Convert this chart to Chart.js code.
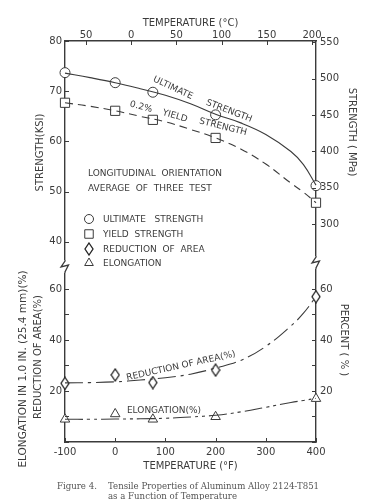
<!DOCTYPE html>
<html>
<head>
<meta charset="utf-8">
<script src="https://cdn.jsdelivr.net/npm/chart.js@4"></script>
<style>
  body { margin: 0; background: #fff; }
  canvas { display: block; }
</style>
</head>
<body>
<canvas id="tensile_chart" width="370" height="500"></canvas>
<script>
// test points
const testTempF = [-100, 0, 75, 200, 400];
const ultimateKsi = [73.7, 71.7, 69.8, 65.3, 51.2];
const yieldKsi = [67.7, 66.1, 64.3, 60.7, 47.8];
const reductionPct = [23.0, 26.3, 23.3, 28.2, 57.0];
const elongationPct = [8.9, 11.0, 8.9, 9.9, 17.0];

// faired curves, also
const curveTempF = [-100, -50, 0, 50, 100, 150, 200, 250, 300, 350, 375, 400];
const ultimateCurve = [73.6, 72.7, 71.7, 70.5, 69.2, 67.5, 65.4, 63.7, 61.4, 58.0, 55.4, 51.3];
const yieldCurve = [67.7, 67.0, 66.1, 65.0, 63.9, 62.4, 60.7, 58.5, 55.5, 51.7, 49.9, 47.8];
const reductionCurve = [23.2, 23.3, 23.6, 24.3, 25.2, 26.6, 29.0, 32.0, 37.5, 45.5, 50.5, 57.0];
const elongationCurve = [8.9, 8.9, 9.0, 9.1, 9.3, 9.8, 10.5, 11.8, 13.6, 15.5, 16.3, 17.1];

// ticks
const tempFTicks = [-100, 0, 100, 200, 300, 400];
const tempCTicks = [-50, 0, 50, 100, 150, 200];
const tempCLabels = ['50', '0', '50', '100', '150', '200'];
const ksiTicks = [40, 50, 60, 70, 80];
const mpaTicks = [300, 350, 400, 450, 500, 550];
const pctTicks = [0, 10, 20, 30, 40, 50, 60];
const pctLabels = [20, 40, 60];

const ink = '#3b3b3b';
const KSI_TO_MPA = 6.895;
const ksiMin = 35.6, ksiMax = 80, pctMax = 69.8;

Chart.defaults.font.family = 'DejaVu Sans';
Chart.defaults.color = ink;

const tickFont = { family: 'DejaVu Sans', size: 10 };
const titleFont = { family: 'DejaVu Sans', size: 10 };

const fixTicks = values => scale => { scale.ticks = values.map(v => ({ value: v })); };
const pts = (xs, ys) => xs.map((x, i) => ({ x: x, y: ys[i] }));

// elongated diamond for reduction of area
const diamond = document.createElement('canvas');
diamond.width = 10; diamond.height = 14;
(function () {
  const c = diamond.getContext('2d');
  c.fillStyle = '#fff'; c.strokeStyle = '#222'; c.lineWidth = 1.3;
  c.beginPath();
  c.moveTo(5, 1); c.lineTo(9, 7); c.lineTo(5, 13); c.lineTo(1, 7); c.closePath();
  c.fill(); c.stroke();
})();

function curve(data, axis, dash) {
  return {
    data: data, yAxisID: axis, showLine: true, pointRadius: 0,
    borderColor: ink, borderWidth: 1.1, borderDash: dash,
    tension: 0.4, clip: false
  };
}
function markers(data, axis, style, r) {
  return {
    data: data, yAxisID: axis, showLine: false, pointStyle: style, pointRadius: r,
    pointBackgroundColor: '#fff', pointBorderColor: ink, pointBorderWidth: 1, clip: false
  };
}

const axisBase = {
  grid: { drawOnChartArea: false, drawTicks: false },
  border: { color: ink, width: 1.4 },
};

function rotatedText(ctx, text, x, y, deg) {
  ctx.save();
  ctx.translate(x, y);
  ctx.rotate(deg * Math.PI / 180);
  ctx.fillText(text, 0, 0);
  ctx.restore();
}

// ticks pointing into the plot, breaks in the side axes, side titles, notes and caption
const decorations = {
  id: 'decorations',
  afterDraw(chart) {
    const ctx = chart.ctx;
    const a = chart.chartArea;
    ctx.save();
    ctx.strokeStyle = ink;
    ctx.lineWidth = 1;
    Object.values(chart.scales).forEach(s => {
      s.ticks.forEach(t => {
        const p = Math.round(s.getPixelForValue(t.value)) + 0.5;
        ctx.beginPath();
        if (s.position === 'left') { ctx.moveTo(a.left, p); ctx.lineTo(a.left + 4, p); }
        if (s.position === 'right') { ctx.moveTo(a.right, p); ctx.lineTo(a.right - 4, p); }
        if (s.position === 'bottom') { ctx.moveTo(p, a.bottom); ctx.lineTo(p, a.bottom - 4); }
        if (s.position === 'top') { ctx.moveTo(p, a.top); ctx.lineTo(p, a.top + 4); }
        ctx.stroke();
      });
    });

    // axis breaks
    const brk = (x, y) => {
      ctx.fillStyle = '#fff';
      ctx.fillRect(x - 2, y - 1, 4, 13);
      ctx.lineWidth = 1.3;
      ctx.beginPath();
      ctx.moveTo(x, y - 1); ctx.lineTo(x, y);
      ctx.lineTo(x - 4, y + 6); ctx.lineTo(x + 3.5, y + 4);
      ctx.lineTo(x, y + 11); ctx.lineTo(x, y + 12);
      ctx.stroke();
    };
    brk(a.left, 261);
    brk(a.right, 257);

    ctx.fillStyle = ink;
    ctx.textBaseline = 'middle';

    // side titles
    ctx.textAlign = 'center';
    ctx.font = '10.5px "DejaVu Sans"';
    rotatedText(ctx, 'ELONGATION IN 1.0 IN. (25.4 mm)(%)', 23, 369, -90);
    ctx.font = '10px "DejaVu Sans"';
    rotatedText(ctx, 'REDUCTION OF AREA(%)', 38, 357, -90);
    rotatedText(ctx, 'STRENGTH ( MPa)', 352, 132, 90);
    rotatedText(ctx, 'PERCENT ( % )', 344, 340, 90);

    ctx.textAlign = 'left';
    ctx.font = '9px "DejaVu Sans"';
    ctx.fillText('LONGITUDINAL  ORIENTATION', 88, 174);
    ctx.fillText('AVERAGE  OF  THREE  TEST', 88, 189);

    const legend = [
      ['circle', 4.5, 'ULTIMATE   STRENGTH', 219],
      ['rect', 6, 'YIELD  STRENGTH', 234],
      [diamond, 0, 'REDUCTION  OF  AREA', 249],
      ['triangle', 5, 'ELONGATION', 263]
    ];
    legend.forEach(([style, r, label, y]) => {
      ctx.fillStyle = '#fff';
      ctx.lineWidth = 1;
      Chart.helpers.drawPoint(ctx, { pointStyle: style, radius: r, rotation: 0, borderWidth: 1 }, 89, y);
      ctx.fillStyle = ink;
      ctx.fillText(label, 103, y + 1);
    });

    // labels along the curves
    const onCurve = [
      ['ULTIMATE', 173, 88, 25],
      ['STRENGTH', 229, 111, 21],
      ['0.2%', 141, 107, 15],
      ['YIELD', 175, 116, 16],
      ['STRENGTH', 223, 127, 14],
      ['REDUCTION OF AREA(%)', 181, 366, -12.5],
      ['ELONGATION(%)', 164, 411, 0]
    ];
    ctx.textAlign = 'center';
    onCurve.forEach(([label, x, y, deg]) => rotatedText(ctx, label, x, y, deg));

    // caption
    ctx.fillStyle = '#555';
    ctx.textAlign = 'left';
    ctx.font = '8.6px "DejaVu Serif"';
    ctx.fillText('Figure 4.', 57, 487);
    ctx.fillText('Tensile Properties of Aluminum Alloy 2124-T851', 108, 487);
    ctx.fillText('as a Function of Temperature', 108, 497);
    ctx.restore();
  }
};

new Chart(document.getElementById('tensile_chart').getContext('2d'), {
  type: 'scatter',
  data: {
    datasets: [
      curve(pts(curveTempF, ultimateCurve), 'yKsi', []),
      curve(pts(curveTempF, yieldCurve), 'yKsi', [8, 5]),
      curve(pts(curveTempF, reductionCurve), 'yPct', [18, 5, 3, 5]),
      curve(pts(curveTempF, elongationCurve), 'yPct', [18, 4, 3, 4, 3, 4]),
      markers(pts(testTempF, ultimateKsi), 'yKsi', 'circle', 5),
      markers(pts(testTempF, yieldKsi), 'yKsi', 'rect', 6.5),
      markers(pts(testTempF, reductionPct), 'yPct', diamond, 5),
      markers(pts(testTempF, elongationPct), 'yPct', 'triangle', 5.5)
    ]
  },
  options: {
    responsive: false,
    animation: false,
    devicePixelRatio: 1,
    layout: { padding: 0 },
    plugins: { legend: { display: false }, tooltip: { enabled: false } },
    scales: {
      x: {
        ...axisBase, type: 'linear', position: 'bottom', min: -100, max: 400,
        afterBuildTicks: fixTicks(tempFTicks),
        afterFit: s => { s.height = 58; },
        ticks: { font: tickFont, color: ink, padding: 4 },
        title: { display: true, text: 'TEMPERATURE (°F)', font: titleFont, color: ink, padding: { top: 0, bottom: 28 } }
      },
      xC: {
        ...axisBase, type: 'linear', position: 'top',
        min: (-100 - 32) * 5 / 9, max: (400 - 32) * 5 / 9,
        afterBuildTicks: fixTicks(tempCTicks),
        afterFit: s => { s.height = 41; },
        ticks: { font: tickFont, color: ink, padding: 0, callback: (v, i) => tempCLabels[i] },
        title: { display: true, text: 'TEMPERATURE (°C)', font: titleFont, color: ink, padding: { top: 17, bottom: 0 } }
      },
      yPct: {
        ...axisBase, type: 'linear', position: 'left', stack: 'left', stackWeight: 178,
        min: 0, max: pctMax,
        afterBuildTicks: fixTicks(pctTicks),
        afterFit: s => { s.width = 65; },
        ticks: { font: tickFont, color: ink, padding: 3, callback: v => pctLabels.includes(v) ? v : '' }
      },
      yKsi: {
        ...axisBase, type: 'linear', position: 'left', stack: 'left', stackWeight: 223,
        min: ksiMin, max: ksiMax,
        afterBuildTicks: fixTicks(ksiTicks),
        afterFit: s => { s.width = 65; },
        ticks: { font: tickFont, color: ink, padding: 3 },
        title: { display: true, text: 'STRENGTH(KSI)', font: titleFont, color: ink, padding: { top: 34, bottom: 0 } }
      },
      yMpa: {
        ...axisBase, type: 'linear', position: 'right', stack: 'right', stackWeight: 223,
        min: ksiMin * KSI_TO_MPA, max: ksiMax * KSI_TO_MPA,
        afterBuildTicks: fixTicks(mpaTicks),
        afterFit: s => { s.width = 54; },
        ticks: { font: tickFont, color: ink, padding: 4 }
      },
      yPctR: {
        ...axisBase, type: 'linear', position: 'right', stack: 'right', stackWeight: 178,
        min: 0, max: pctMax,
        afterBuildTicks: fixTicks(pctTicks),
        afterFit: s => { s.width = 54; },
        ticks: { font: tickFont, color: ink, padding: 4, callback: v => pctLabels.includes(v) ? v : '' }
      }
    }
  },
  plugins: [decorations]
});
</script>
</body>
</html>
